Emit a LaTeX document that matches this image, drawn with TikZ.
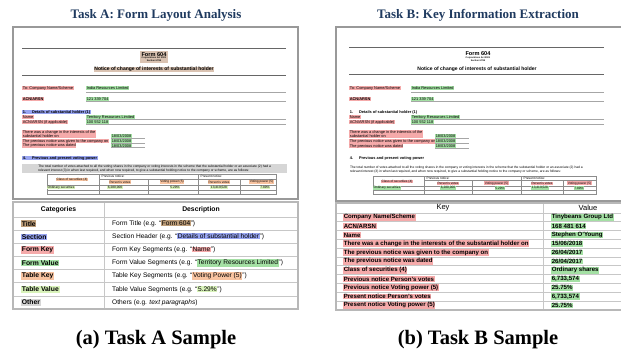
\documentclass[tikz,border=0pt]{standalone}
\usepackage{fontspec}
\setmainfont{Liberation Sans}
\newfontfamily\titlefont{Liberation Serif}
\usepackage{tikz}
\usepackage{xcolor}

\definecolor{cTitle}{HTML}{BE9E7A}
\definecolor{cTitleF}{HTML}{DAC3B2}
\definecolor{cSect}{HTML}{98A5F2}
\definecolor{cFKey}{HTML}{F5AAAA}
\definecolor{cFVal}{HTML}{A4E0A4}
\definecolor{cTKey}{HTML}{F8C3A0}
\definecolor{cTVal}{HTML}{D9F3BA}
\definecolor{cOther}{HTML}{D6D6D6}
\definecolor{navy}{HTML}{1F3A5F}

\newcommand\fsz[1]{\fontsize{#1}{\dimexpr#1pt*6/5\relax}\selectfont}
\newcommand\hlbox[2]{{\fboxsep=0.6pt\colorbox{#1}{#2}}}

\tikzset{
  paneltitle/.style={font=\titlefont\bfseries\fsz{13}, text=navy},
  capt/.style={font=\titlefont\bfseries\fsz{20.5}},
  pageframe/.style={draw=black!40, line width=1.1pt},
  darkrule/.style={draw=black!60, line width=1pt},
  valline/.style={draw=black!35, line width=0.4pt},
  gridline/.style={draw=black!45, line width=0.4pt},
  ftxt/.style={inner sep=0.6pt, anchor=west, font=\fsz{3.9}},
  fk/.style={ftxt, fill=cFKey},
  fv/.style={ftxt, fill=cFVal},
  sec/.style={ftxt, font=\fsz{3.9}\bfseries},
  para/.style={inner sep=0.8pt, anchor=north west, align=left, font=\fsz{3.3}},
  ttx/.style={inner sep=0.5pt, anchor=west, font=\fsz{3.2}},
  tk/.style={ttx, anchor=center, fill=cTKey},
  tv/.style={ttx, fill=cTVal},
  tabframe/.style={draw=black!28, line width=1.3pt},
  tabline/.style={draw=black!22, line width=0.8pt},
  thd/.style={font=\fsz{6.8}\bfseries},
  cat/.style={inner sep=0.7pt, anchor=west, font=\fsz{6.8}\bfseries},
  desc/.style={inner sep=0pt, anchor=west, font=\fsz{6.6}},
  bk/.style={inner sep=0.6pt, anchor=west, fill=cFKey, font=\fsz{6.1}\bfseries},
  bv/.style={inner sep=0.6pt, anchor=west, fill=cFVal, font=\fsz{6.1}\bfseries}
}

\begin{document}
\begin{tikzpicture}[x=1pt, y=-1pt]
  \useasboundingbox (0,0) rectangle (621,356);
  \clip (0,0) rectangle (621,356);

  % Task A: form page
  \node[paneltitle] (headA) at (156,15) {Task A: Form Layout Analysis};
  \draw[pageframe] (13,27) rectangle (298,199);
  \draw[darkrule] (22,48) -- (286,48) (22,75) -- (286,75);
  \node[ftxt, anchor=center, align=center, fill=cTitleF, inner sep=1.4pt, font=\fsz{2.3}\bfseries] (aForm) at (154,57)
    {{\fsz{5.6}Form 604}\\Corporations Act 2001\\Section 671B};
  \node[ftxt, anchor=center, fill=cTitleF, font=\fsz{5}\bfseries] (aNotice) at (154,69.5) {Notice of change of interests of substantial holder};

  \node[fk] (aKeyCo) at (22,88) {To: Company Name/Scheme};
  \node[fv] (aValCo) at (86,88) {India Resources Limited};
  \node[fk, font=\fsz{3.9}\bfseries] (aKeyAcn) at (22,99) {ACN/ARSN};
  \node[fv] (aValAcn) at (86,99) {121 339 704};
  \draw[valline] (86,92) -- (286,92) (86,101.5) -- (286,101.5);

  \node[sec, fill=cSect] (aSec1) at (22,112) {1.\hspace{6pt}Details of substantial holder (1)};
  \node[fk] (aKeyName) at (22,117) {Name};
  \node[fv] (aValName) at (86,117) {Territory Resources Limited};
  \node[fk] (aKeyAcn2) at (22,122) {ACN/ARSN (if applicable)};
  \node[fv] (aValAcn2) at (86,122) {100 552 118};
  \draw[valline] (86,119.5) -- (286,119.5) (86,124.2) -- (286,124.2);

  \node[fk, align=left] (aKeyChg) at (22,134) {There was a change in the interests of the\\substantial holder on};
  \node[fk] (aKeyGiv) at (22,141) {The previous notice was given to the company on};
  \node[fk] (aKeyDat) at (22,145.7) {The previous notice was dated};
  \node[fv] (aValChg) at (111,136.5) {18/03/2008};
  \node[fv] (aValGiv) at (111,141) {18/03/2008};
  \node[fv] (aValDat) at (111,145.7) {18/03/2008};
  \draw[valline] (111,138.4) -- (145,138.4) (111,142.9) -- (145,142.9) (111,147.6) -- (145,147.6);

  \node[sec, fill=cSect] (aSec4) at (22,158) {4.\hspace{6pt}Previous and present voting power};
  \node[para, fill=cOther, minimum width=265pt] (aPara) at (22,164)
    {The total number of votes attached to all the voting shares in the company or voting interests in the scheme that the substantial holder or an associate (2) had a\\relevant interest (3) in when last required, and when now required, to give a substantial holding notice to the company or scheme, are as follows:};

  \draw[gridline] (47,174) rectangle (276,194);
  \draw[gridline] (99,174) -- (99,194) (198,174) -- (198,194) (148,179) -- (148,194) (240,179) -- (240,194)
    (99,179) -- (276,179) (47,185) -- (276,185) (47,190) -- (276,190);
  \node[tk] (aTkCls) at (72,179.5) {Class of securities (4)};
  \node[ttx] (aPrev) at (101,176.6) {Previous notice:};
  \node[ttx] (aPres) at (200,176.6) {Present notice:};
  \node[tk] (aTkPv1) at (120,182) {Person’s votes};
  \node[tk] (aTkVp1) at (172,182) {Voting power (5)};
  \node[tk] (aTkPv2) at (219,182) {Person’s votes};
  \node[tk] (aTkVp2) at (261.5,182) {Voting power (5)};
  \node[tv] (aTvCls) at (47,187.5) {Ordinary securities};
  \node[tv, anchor=center] (aTv1) at (115,187.5) {6,280,000};
  \node[tv, anchor=center] (aTv2) at (175,187.5) {5.29\%};
  \node[tv, anchor=center] (aTv3) at (219,187.5) {13,419,528};
  \node[tv, anchor=center] (aTv4) at (265,187.5) {7.89\%};

  % Task A: categories table
  \draw[tabline] (104,202) -- (104,309)
    (13,217) -- (298,217) (13,230.1) -- (298,230.1) (13,243.3) -- (298,243.3) (13,256.4) -- (298,256.4)
    (13,269.6) -- (298,269.6) (13,282.7) -- (298,282.7) (13,295.9) -- (298,295.9);
  \draw[tabframe] (13,202) rectangle (298,309);
  \node[thd] (aHdCat) at (58.5,209.5) {Categories};
  \node[thd] (aHdDesc) at (201,209.5) {Description};
  \node[cat, fill=cTitle] (aCatTitle) at (21,223.6) {Title};
  \node[desc] (aDescTitle) at (112,223.6) {Form Title (e.g. “\hlbox{cTitle}{Form 604}”)};
  \node[cat, fill=cSect] (aCatSect) at (21,236.7) {Section};
  \node[desc] (aDescSect) at (112,236.7) {Section Header (e.g. “\hlbox{cSect}{Details of substantial holder}”)};
  \node[cat, fill=cFKey] (aCatFKey) at (21,249.9) {Form Key};
  \node[desc] (aDescFKey) at (112,249.9) {Form Key Segments (e.g. “\hlbox{cFKey}{Name}”)};
  \node[cat, fill=cFVal] (aCatFVal) at (21,263) {Form Value};
  \node[desc] (aDescFVal) at (112,263) {Form Value Segments (e.g. “\hlbox{cFVal}{Territory Resources Limited}”)};
  \node[cat, fill=cTKey] (aCatTKey) at (21,276.1) {Table Key};
  \node[desc] (aDescTKey) at (112,276.1) {Table Key Segments (e.g. “\hlbox{cTKey}{Voting Power (5)}”)};
  \node[cat, fill=cTVal] (aCatTVal) at (21,289.3) {Table Value};
  \node[desc] (aDescTVal) at (112,289.3) {Table Value Segments (e.g. “\hlbox{cTVal}{5.29\%}”)};
  \node[cat, fill=cOther] (aCatOther) at (21,302.4) {Other};
  \node[desc] (aDescOther) at (112,302.4) {Others (e.g. \textit{text paragraphs})};

  \node[capt] (capA) at (156,340) {(a) Task A Sample};

  % Task B: form page
  \node[paneltitle] (headB) at (478,15) {Task B: Key Information Extraction};
  \draw[pageframe] (336,27) rectangle (630,201);
  \draw[darkrule] (349,47) -- (604,47) (349,74.5) -- (604,74.5);
  \node[ftxt, anchor=center, align=center, inner sep=1.4pt, font=\fsz{2.3}\bfseries] (bForm) at (478,56.5)
    {{\fsz{5.6}Form 604}\\Corporations Act 2001\\Section 671B};
  \node[ftxt, anchor=center, font=\fsz{5}\bfseries] (bNotice) at (477,69) {Notice of change of interests of substantial holder};

  \node[fk] (bKeyCo) at (349,88) {To: Company Name/Scheme};
  \node[fv] (bValCo) at (411,88) {India Resources Limited};
  \node[fk, font=\fsz{3.9}\bfseries] (bKeyAcn) at (349,99) {ACN/ARSN};
  \node[fv] (bValAcn) at (411,99) {121 339 704};
  \draw[valline] (411,92) -- (604,92) (411,101.5) -- (604,101.5);

  \node[sec] (bSec1) at (349,112) {1.\hspace{6pt}Details of substantial holder (1)};
  \node[fk] (bKeyName) at (349,117) {Name};
  \node[fv] (bValName) at (411,117) {Territory Resources Limited};
  \node[fk] (bKeyAcn2) at (349,122) {ACN/ARSN (if applicable)};
  \node[fv] (bValAcn2) at (411,122) {100 552 118};
  \draw[valline] (411,119.5) -- (604,119.5) (411,124.2) -- (604,124.2);

  \node[fk, align=left] (bKeyChg) at (349,134) {There was a change in the interests of the\\substantial holder on};
  \node[fk] (bKeyGiv) at (349,141.3) {The previous notice was given to the company on};
  \node[fk] (bKeyDat) at (349,146) {The previous notice was dated};
  \node[fv] (bValChg) at (435,136.5) {18/03/2008};
  \node[fv] (bValGiv) at (435,141.3) {18/03/2008};
  \node[fv] (bValDat) at (435,146) {18/03/2008};
  \draw[valline] (435,138.4) -- (469,138.4) (435,143.2) -- (469,143.2) (435,147.9) -- (469,147.9);

  \node[sec] (bSec4) at (349,158.5) {4.\hspace{6pt}Previous and present voting power};
  \node[para] (bPara) at (349,165)
    {The total number of votes attached to all the voting shares in the company or voting interests in the scheme that the substantial holder or an associate (2) had a\\relevant interest (3) in when last required, and when now required, to give a substantial holding notice to the company or scheme, are as follows:};

  \draw[gridline] (373,176) rectangle (596,194);
  \draw[gridline] (424,176) -- (424,194) (521,176) -- (521,194) (472,180) -- (472,194) (563,180) -- (563,194)
    (424,180) -- (596,180) (373,186) -- (596,186) (373,190) -- (596,190);
  \node[tk, fill=cFKey] (bTkCls) at (397,181.5) {Class of securities (4)};
  \node[ttx] (bPrev) at (426,178) {Previous notice:};
  \node[ttx] (bPres) at (523,178) {Present notice:};
  \node[tk, fill=cFKey] (bTkPv1) at (448,183.2) {Person’s votes};
  \node[tk, fill=cFKey] (bTkVp1) at (496.5,183.2) {Voting power (5)};
  \node[tk, fill=cFKey] (bTkPv2) at (542,183.2) {Person’s votes};
  \node[tk, fill=cFKey] (bTkVp2) at (579.5,183.2) {Voting power (5)};
  \node[tv, fill=cFVal] (bTvCls) at (373,188) {Ordinary securities};
  \node[tv, anchor=center, fill=cFVal] (bTv1) at (448,188) {6,280,000};
  \node[tv, anchor=center, fill=cFVal] (bTv2) at (500,188) {5.29\%};
  \node[tv, anchor=center, fill=cFVal] (bTv3) at (540,188) {13,419,528};
  \node[tv, anchor=center, fill=cFVal] (bTv4) at (579,188) {7.89\%};

  % Task B: key / value table
  \draw[tabline] (543,203) -- (543,310)
    (336,213) -- (630,213) (336,221.8) -- (630,221.8) (336,230.6) -- (630,230.6) (336,239.4) -- (630,239.4)
    (336,248.2) -- (630,248.2) (336,257) -- (630,257) (336,265.8) -- (630,265.8) (336,274.6) -- (630,274.6)
    (336,283.4) -- (630,283.4) (336,292.2) -- (630,292.2) (336,301) -- (630,301);
  \draw[tabframe] (336,203) rectangle (630,310);
  \node[font=\fsz{7.5}] (bHdKey) at (443,208) {Key};
  \node[font=\fsz{7.5}] (bHdVal) at (588,208) {Value};
  \node[bk] (bK1) at (343,217.4) {Company Name/Scheme};
  \node[bv] (bV1) at (551,217.4) {Tinybeans Group Ltd};
  \node[bk] (bK2) at (343,226.2) {ACN/ARSN};
  \node[bv] (bV2) at (551,226.2) {168 481 614};
  \node[bk] (bK3) at (343,235) {Name};
  \node[bv] (bV3) at (551,235) {Stephen O’Young};
  \node[bk] (bK4) at (343,243.8) {There was a change in the interests of the substantial holder on};
  \node[bv] (bV4) at (551,243.8) {15/06/2018};
  \node[bk] (bK5) at (343,252.6) {The previous notice was given to the company on};
  \node[bv] (bV5) at (551,252.6) {26/04/2017};
  \node[bk] (bK6) at (343,261.4) {The previous notice was dated};
  \node[bv] (bV6) at (551,261.4) {26/04/2017};
  \node[bk] (bK7) at (343,270.2) {Class of securities (4)};
  \node[bv] (bV7) at (551,270.2) {Ordinary shares};
  \node[bk] (bK8) at (343,279) {Previous notice Person’s votes};
  \node[bv] (bV8) at (551,279) {6,733,574};
  \node[bk] (bK9) at (343,287.8) {Previous notice Voting power (5)};
  \node[bv] (bV9) at (551,287.8) {25.75\%};
  \node[bk] (bK10) at (343,296.6) {Present notice Person’s votes};
  \node[bv] (bV10) at (551,296.6) {6,733,574};
  \node[bk] (bK11) at (343,305.4) {Present notice Voting power (5)};
  \node[bv] (bV11) at (551,305.4) {25.75\%};

  \node[capt] (capB) at (478,340) {(b) Task B Sample};
\end{tikzpicture}
\end{document}
